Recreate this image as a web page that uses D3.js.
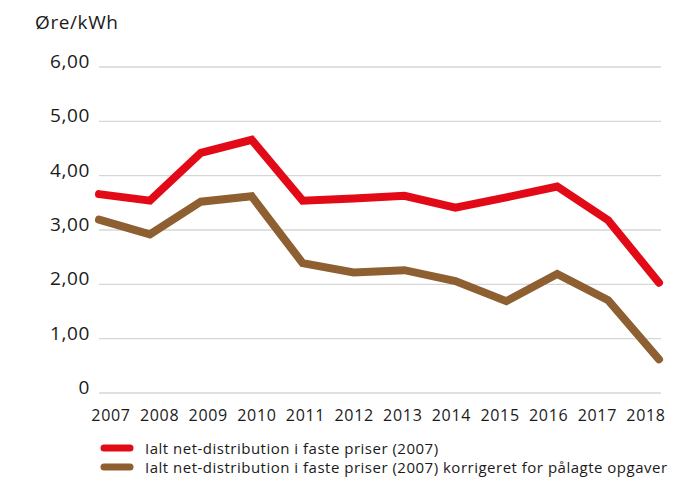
<!DOCTYPE html>
<html>
<head>
<meta charset="utf-8">
<script src="https://cdn.jsdelivr.net/npm/d3@7"></script>
<style>
  body { margin: 0; background: #fff; }
  svg { display: block; font-family: "Open Sans", sans-serif; }
</style>
</head>
<body>
<svg id="chart" width="676" height="480"></svg>
<script>
// data
const years = ["2007", "2008", "2009", "2010", "2011", "2012", "2013", "2014", "2015", "2016", "2017", "2018"];
const netDistribution = [3.66, 3.54, 4.42, 4.66, 3.54, 3.58, 3.63, 3.41, 3.60, 3.80, 3.18, 2.03];
const netCorrected = [3.19, 2.92, 3.52, 3.62, 2.39, 2.22, 2.26, 2.06, 1.69, 2.19, 1.71, 0.62];
const yTicks = [0, 1, 2, 3, 4, 5, 6];
const yTickLabels = ["0", "1,00", "2,00", "3,00", "4,00", "5,00", "6,00"];
const seriesNames = [
  "Ialt net-distribution i faste priser (2007)",
  "Ialt net-distribution i faste priser (2007) korrigeret for pålagte opgaver"
];
const seriesColors = ["#e20a17", "#8e6031"];

const svg = d3.select("#chart");

const gridLeft = 99, gridRight = 661;

// scales
const x = d3.scalePoint().domain(years).range([99, 659]);
const xLabel = d3.scalePoint().domain(years).range([111, 646]);
const y = d3.scaleLinear().domain([0, 6]).range([393, 67]);

// unit title
svg.append("text")
  .attr("x", 35)
  .attr("y", 29)
  .attr("font-size", 19)
  .attr("letter-spacing", 0.6)
  .attr("fill", "#1a1a1a")
  .text("Øre/kWh");

// gridlines
svg.append("g")
  .selectAll("line")
  .data(yTicks)
  .enter()
  .append("line")
  .attr("x1", gridLeft)
  .attr("x2", gridRight)
  .attr("y1", d => y(d))
  .attr("y2", d => y(d))
  .attr("stroke", "#d6d6d6")
  .attr("stroke-width", 1.3);

// y labels
svg.append("g")
  .selectAll("text")
  .data(yTicks)
  .enter()
  .append("text")
  .attr("x", 90)
  .attr("y", d => y(d) + 1)
  .attr("text-anchor", "end")
  .attr("font-size", 19)
  .attr("letter-spacing", 0.6)
  .attr("fill", "#1a1a1a")
  .text((d, i) => yTickLabels[i]);

// x labels
svg.append("g")
  .selectAll("text")
  .data(years)
  .enter()
  .append("text")
  .attr("x", d => xLabel(d))
  .attr("y", 421)
  .attr("text-anchor", "middle")
  .attr("font-size", 16)
  .attr("letter-spacing", 0.7)
  .attr("fill", "#1a1a1a")
  .text(d => d);

// lines
const line = d3.line()
  .x((d, i) => x(years[i]))
  .y(d => y(d));

[netDistribution, netCorrected].forEach((values, i) => {
  svg.append("path")
    .datum(values)
    .attr("fill", "none")
    .attr("stroke", seriesColors[i])
    .attr("stroke-width", 8)
    .attr("stroke-linejoin", "miter")
    .attr("stroke-linecap", "round")
    .attr("d", line);
});

// legend
const legend = svg.append("g")
  .selectAll("g")
  .data(seriesNames)
  .enter()
  .append("g")
  .attr("transform", (d, i) => `translate(0, ${448 + i * 19})`);

legend.append("line")
  .attr("x1", 104)
  .attr("x2", 130)
  .attr("stroke", (d, i) => seriesColors[i])
  .attr("stroke-width", 7)
  .attr("stroke-linecap", "round");

legend.append("text")
  .attr("x", 145)
  .attr("y", 5.5)
  .attr("font-size", 15)
  .attr("letter-spacing", 0.5)
  .attr("fill", "#1a1a1a")
  .text(d => d);
</script>
</body>
</html>
